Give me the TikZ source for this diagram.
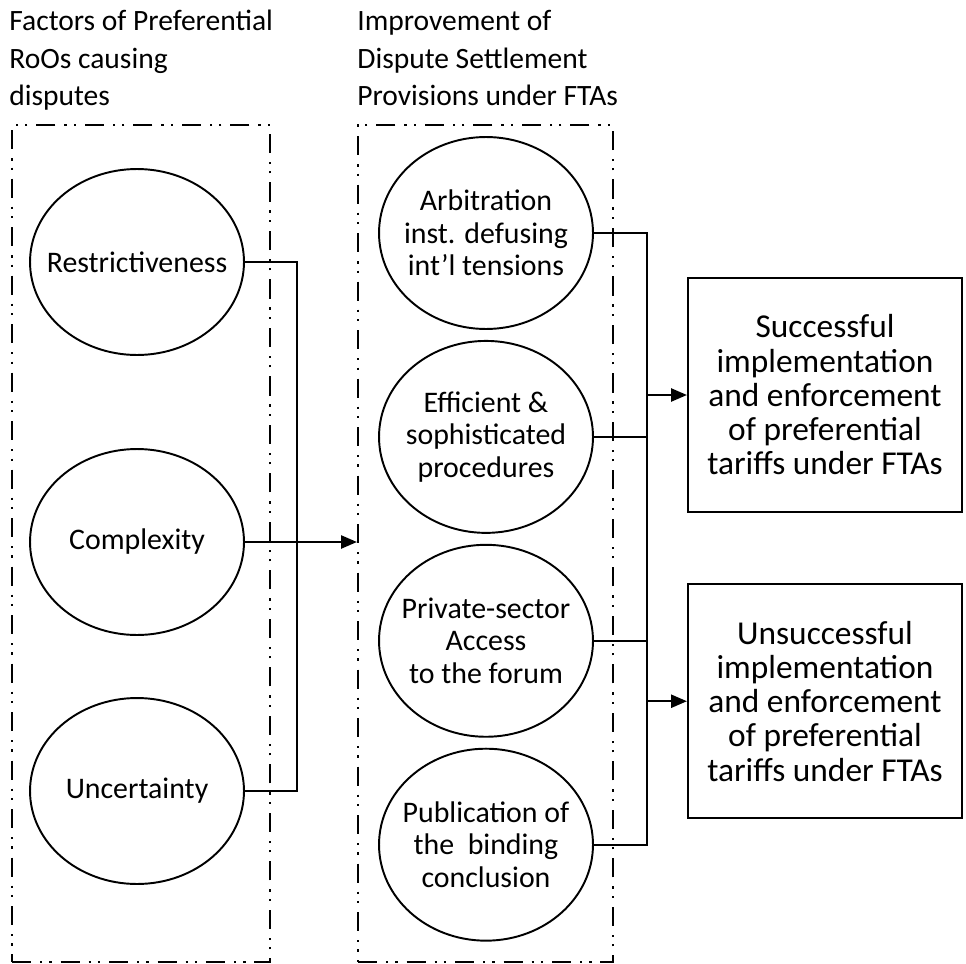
\documentclass[tikz,border=0pt]{standalone}
\usepackage{fontspec}
\setmainfont{Carlito}
\usetikzlibrary{positioning,arrows.meta,shapes.geometric}

\begin{document}
\begin{tikzpicture}[x=0.02cm,y=-0.02cm,
      node distance=0.2cm,
      grupo/.style={draw,line width=1.3pt,inner sep=0pt,
                    dash pattern=on 11pt off 5pt on 1.3pt off 4pt on 1.3pt off 5pt,
                    minimum width=#1,minimum height=16.74cm},
      titulo/.style={anchor=north west,align=left,inner sep=0pt,
                     font=\fontsize{16.8}{21.3}\selectfont},
      factor/.style={ellipse,draw,line width=1.1pt,inner sep=-1cm,
                     minimum width=4.28cm,minimum height=3.72cm,
                     font=\fontsize{17}{18.5}\selectfont},
      medida/.style={factor,align=center,minimum height=3.84cm},
      caja/.style={draw,line width=1.3pt,align=center,inner sep=0pt,
                   minimum width=5.48cm,minimum height=4.68cm,
                   font=\fontsize{19}{19.5}\selectfont},
      linea/.style={draw,line width=1pt},
      flecha/.style={-{Triangle[length=9pt,width=7.5pt]},draw,line width=1pt}]
    \useasboundingbox (0,0) rectangle (966,963);
    % dashed groups and their headings
    \node[grupo=5.16cm] (grpA) at (141,543.5) {};
    \node[grupo=5.1cm] (grpB) at (485.5,543.5) {};
    \node[titulo] (titA) at (9,10) {Factors of Preferential\\RoOs causing\\disputes};
    \node[titulo] (titB) at (357,10) {Improvement of\\Dispute Settlement\\Provisions under FTAs};
    % factors
    \node[factor] (restr) at (137,262) {Restrictiveness};
    \node[factor] (cplx) at (137,542) {Complexity};
    \node[factor] (uncert) at (137,791) {Uncertainty};
    % provisions
    \node[medida] (arb) at (486,233) {Arbitration\\inst. defusing\\int'l tensions};
    \node[medida,below=of arb] (eff) {Efficient \&\\sophisticated\\procedures};
    \node[medida,below=of eff] (priv) {Private-sector\\Access\\to the forum};
    \node[medida,below=of priv] (pub) {Publication of\\the~~binding\\conclusion};
    % outcomes
    \node[caja] (ok) at (825,395) {Successful\\implementation\\and enforcement\\of preferential\\tariffs under FTAs};
    \node[caja,below=1.4cm of ok] (nok) {Unsuccessful\\implementation\\and enforcement\\of preferential\\tariffs under FTAs};
    \coordinate (busL) at (297,0);
    \coordinate (busR) at (647,0);
    \draw[linea] (restr.east) -- (restr.east -| busL) -- (uncert.east -| busL) -- (uncert.east);
    \draw[flecha] (cplx.east) -- (cplx.east -| grpB.west);
    \draw[linea] (arb.east) -- (arb.east -| busR) -- (pub.east -| busR) -- (pub.east);
    \draw[linea] (eff.east) -- (eff.east -| busR);
    \draw[linea] (priv.east) -- (priv.east -| busR);
    \draw[flecha] (ok.west -| busR) -- (ok.west);
    \draw[flecha] (nok.west -| busR) -- (nok.west);
  \end{tikzpicture}
\end{document}
